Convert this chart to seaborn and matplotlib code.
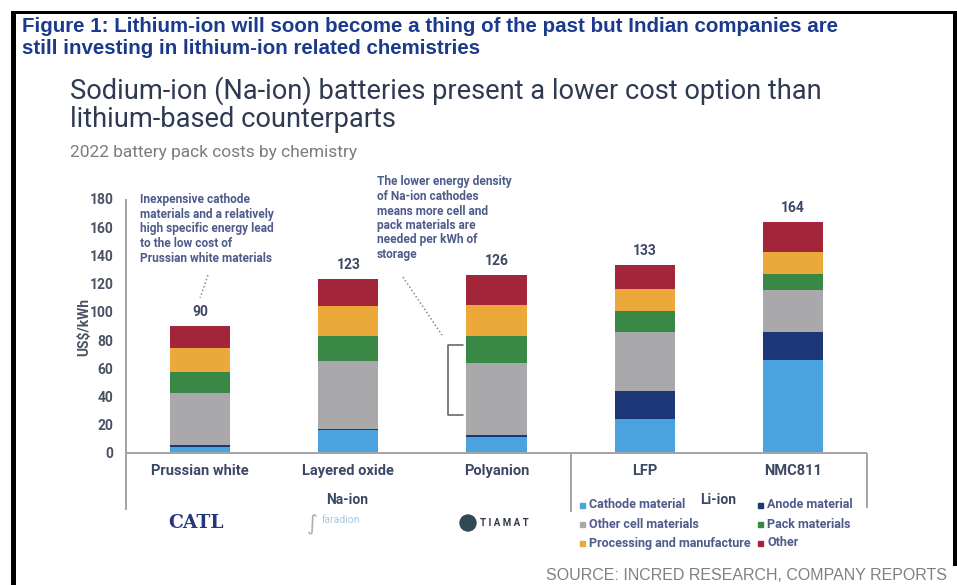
import matplotlib
matplotlib.use("Agg")
import matplotlib.pyplot as plt
import seaborn as sns
import pandas as pd
from matplotlib.patches import Rectangle, Ellipse

# ---- data: 2022 battery pack costs by chemistry (US$/kWh) ----
chemistries = ["Prussian white", "Layered oxide", "Polyanion", "LFP", "NMC811"]
components = ["Cathode material", "Anode material", "Other cell materials",
              "Pack materials", "Processing and manufacture", "Other"]
cathode = [4, 16, 11, 24, 66]
anode = [2, 1, 2, 20, 19.5]
other_cell = [36.5, 48, 50.5, 41.5, 30]
pack = [15, 18, 19.5, 15, 11.5]
processing = [17, 21, 22, 16, 15.5]
other = [15.5, 19, 21, 16.5, 21.5]
y_ticks = [0, 20, 40, 60, 80, 100, 120, 140, 160, 180]

colors = {
    "Cathode material": "#4aa3de",
    "Anode material": "#1c3678",
    "Other cell materials": "#a9a9ac",
    "Pack materials": "#3a8846",
    "Processing and manufacture": "#eaa93a",
    "Other": "#a2253a",
}

series = [cathode, anode, other_cell, pack, processing, other]
df = pd.DataFrame({
    "chemistry": chemistries * len(components),
    "component": [c for c in components for _ in chemistries],
    "cost": [v for s in series for v in s],
})
df["top"] = df.groupby("chemistry", sort=False)["cost"].cumsum()
totals = df.groupby("chemistry", sort=False)["cost"].sum().reindex(chemistries)

W, H = 957, 585
sns.set_theme(style="white")
plt.rcParams["font.family"] = ["Roboto", "DejaVu Sans"]

fig = plt.figure(figsize=(W / 100, H / 100), dpi=100)
fig.patch.set_facecolor("white")


def fp(x, y):
    """pixel position -> figure fraction"""
    return x / W, 1 - y / H


ax = fig.add_axes([126 / W, (H - 453) / H, 741 / W, 254 / H])

# stacked bars: draw cumulative heights from the top layer down
for comp in reversed(components):
    sub = df[df["component"] == comp]
    sns.barplot(data=sub, x="chemistry", y="top", order=chemistries,
                color=colors[comp], saturation=1, width=0.405,
                linewidth=0, errorbar=None, ax=ax)

ax.set_xlim(-0.5, 4.5)
ax.set_ylim(0, 180)
ax.set_xlabel("")
ax.set_ylabel("")
for s in ax.spines.values():
    s.set_visible(False)
ax.set_yticks(y_ticks)
ax.tick_params(axis="y", length=0, pad=9, labelsize=10, labelcolor="#4b5263")
ax.tick_params(axis="x", length=0, pad=8, labelsize=10.5, labelcolor="#3d4866")
for lab in ax.get_yticklabels() + ax.get_xticklabels():
    lab.set_fontweight("bold")

# axis frame and group separators
line_kw = dict(color="#a3a3a3", lw=1.4, clip_on=False, solid_capstyle="butt")
ax.plot([-0.5, -0.5], [-40.5, 180], **line_kw)
ax.plot([-0.5, 4.5], [0, 0], **line_kw)
ax.plot([2.5, 2.5], [0, -42], **line_kw)
ax.plot([4.5, 4.5], [0, -39], **line_kw)

# totals above the bars
for i, chem in enumerate(chemistries):
    t = totals[chem]
    ax.annotate(f"{t:.0f}", (i, t), xytext=(0, 14), textcoords="offset pixels",
                ha="center", va="center", fontsize=10, fontweight="bold",
                color="#3d4866", annotation_clip=False)

# bracket and leader lines for the callouts
ax.plot([1.774, 1.673, 1.673, 1.774], [76.5, 76.5, 27, 27],
        color="#5b5b5b", lw=1.1, clip_on=False)
ax.plot([1.369, 1.632], [124.7, 83.6], color="#8a8a8a", lw=1.1,
        ls=(0, (1, 1.5)), clip_on=False)
ax.plot([0.053, 0.0], [126, 110], color="#8a8a8a", lw=1.1,
        ls=(0, (1, 1.5)), clip_on=False)

note_kw = dict(fontsize=8.6, fontweight="bold", color="#4e5c8c",
               va="center", ha="left")
note_pw = ["Inexpensive cathode", "materials and a relatively",
           "high specific energy lead", "to the low cost of",
           "Prussian white materials"]
note_na = ["The lower energy density", "of Na-ion cathodes",
           "means more cell and", "pack materials are",
           "needed per kWh of", "storage"]
for k, line in enumerate(note_pw):
    fig.text(*fp(140, 200 + 14.5 * k), line, **note_kw)
for k, line in enumerate(note_na):
    fig.text(*fp(377, 182 + 14.5 * k), line, **note_kw)

# y-axis title
fig.text(*fp(84, 327), "US$/kWh", rotation=90, ha="center", va="center",
         fontsize=10, fontweight="bold", color="#4b5263")

# group labels
fig.text(*fp(347, 500), "Na-ion", ha="center", va="center", fontsize=10,
         fontweight="bold", color="#3d4866")
fig.text(*fp(718, 500), "Li-ion", ha="center", va="center", fontsize=10,
         fontweight="bold", color="#3d4866")

# company marks
fig.text(*fp(196, 523), "CATL", ha="center", va="center", fontsize=13.5,
         fontweight="bold", family="DejaVu Serif", color="#27367a")
fig.text(*fp(312, 524), "\u222b", ha="center", va="center", fontsize=15,
         color="#b0b0b0", family="DejaVu Sans")
fig.text(*fp(322, 520), "faradion", ha="left", va="center", fontsize=7.5,
         color="#a8c8e0")
fig.add_artist(Ellipse(fp(468, 523), 16 / W, 16 / H, color="#2f4a55",
                       transform=fig.transFigure))
fig.text(*fp(480, 523), "T I A M A T", ha="left", va="center", fontsize=7,
         fontweight="bold", color="#2e3a45")

# legend
leg_cols = [(580, ["Cathode material", "Other cell materials",
                   "Processing and manufacture"]),
            (758, ["Anode material", "Pack materials", "Other"])]
for x0, names in leg_cols:
    for r, name in enumerate(names):
        yc = 505 + 19 * r
        fig.add_artist(Rectangle(fp(x0, yc + 3), 5 / W, 5 / H,
                                 color=colors[name], transform=fig.transFigure))
        fig.text(*fp(x0 + 9, yc), name, ha="left", va="center", fontsize=9,
                 fontweight="bold", color="#4e5c8c")

# figure heading
head_kw = dict(fontsize=14.8, fontweight="bold", color="#1b3a8e",
               family="Liberation Sans", ha="left", va="center")
fig.text(*fp(22, 27), "Figure 1: Lithium-ion will soon become a thing of the "
         "past but Indian companies are", **head_kw)
fig.text(*fp(22, 48), "still investing in lithium-ion related chemistries",
         **head_kw)

fig.text(*fp(70, 91), "Sodium-ion (Na-ion) batteries present a lower cost "
         "option than", fontsize=19.6, color="#2f3a52", ha="left", va="center")
fig.text(*fp(70, 120), "lithium-based counterparts", fontsize=19.6,
         color="#2f3a52", ha="left", va="center")
fig.text(*fp(70, 153), "2022 battery pack costs by chemistry", fontsize=12.5,
         color="#7c7c7c", ha="left", va="center")

fig.text(*fp(947, 575), "SOURCE: INCRED RESEARCH, COMPANY REPORTS",
         ha="right", va="center", fontsize=11.5, color="#808080",
         family="Liberation Sans")

# outer frame
for x, y, w, h in [(11, 11, 946, 3), (11, 11, 5, 574), (953, 11, 4, 555)]:
    fig.add_artist(Rectangle(fp(x, y + h), w / W, h / H, color="black",
                             transform=fig.transFigure, lw=0))

fig.savefig("out.png", dpi=100)
